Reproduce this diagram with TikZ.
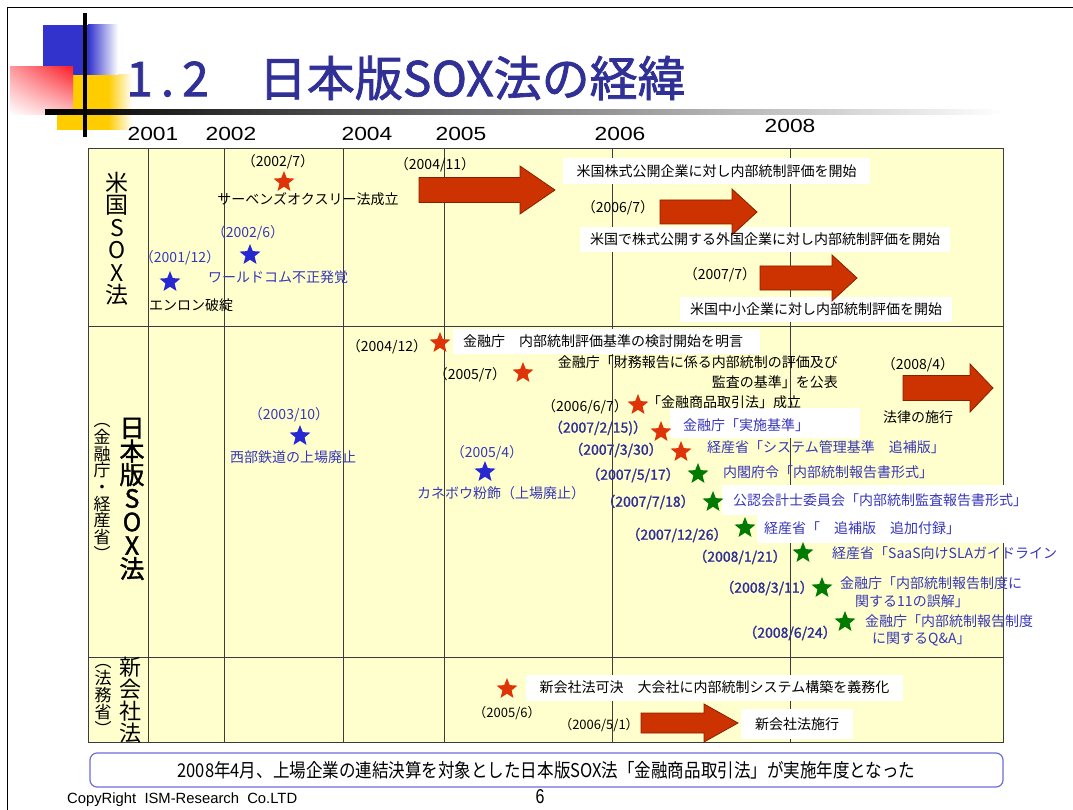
\documentclass[tikz,border=0pt]{standalone}
\usepackage{fontspec}
\setmainfont{Noto Sans CJK JP}[BoldFont={Noto Sans CJK JP},BoldFeatures={FakeBold=1.5}]
\newfontfamily\yearfont{Liberation Sans}[FakeStretch=1.2]
\newfontfamily\condfont{Noto Sans CJK JP}[FakeStretch=0.87]
\newfontfamily\copyfont{Liberation Sans}
\newfontfamily\pagefont{Liberation Sans}[FakeStretch=0.8]
\usetikzlibrary{shapes.geometric,shadings}
\definecolor{tableyellow}{RGB}{255,255,206}
\definecolor{gridc}{RGB}{60,60,60}
\definecolor{starred}{RGB}{222,52,8}
\definecolor{starblue}{RGB}{40,40,210}
\definecolor{stargreen}{RGB}{0,122,0}
\definecolor{arrowred}{RGB}{204,51,0}
\definecolor{arrowdark}{RGB}{140,30,0}
\definecolor{jblue}{RGB}{55,55,185}
\definecolor{dblue}{RGB}{45,45,150}
\definecolor{titleblue}{RGB}{48,48,150}
\definecolor{sqblue}{RGB}{50,50,205}
\definecolor{sqred}{RGB}{250,30,40}
\definecolor{sqgold}{RGB}{255,204,0}
\definecolor{boxblue}{RGB}{110,110,220}
\newcommand\blockarrow[6]{%
  \filldraw[fill=arrowred,draw=arrowdark,line width=0.8pt]
    (#1,#4-#5) -- (#2,#4-#5) -- (#2,#4-#6) -- (#3,#4) -- (#2,#4+#6) -- (#2,#4+#5) -- (#1,#4+#5) -- cycle;}
\tikzset{
  lbl/.style={inner sep=0pt, font=\fontsize{14}{17}\selectfont},
  blbl/.style={lbl, text=jblue},
  bdate/.style={inner sep=0pt, text=dblue, font=\fontsize{14}{17}\selectfont\bfseries},
  wbox/.style={fill=white, draw=none, inner sep=0pt},
  yr/.style={inner sep=0pt, font=\yearfont\fontsize{19}{20}\selectfont},
  starshape/.style={star, star points=5, star point ratio=2.3, minimum size=22pt, inner sep=0pt, draw=none},
  rstar/.style={starshape, fill=starred},
  bstar/.style={starshape, fill=starblue},
  gstar/.style={starshape, fill=stargreen},
  gridline/.style={draw=gridc, line width=1pt},
  vlabel/.style={inner sep=0pt, align=center},
}
\begin{document}
\begin{tikzpicture}[x=1pt,y=-1pt]
\useasboundingbox (0,0) rectangle (1073,810);
\fill[white] (0,0) rectangle (1073,810);
% frame
\draw[line width=1.5pt] (7.5,810) -- (7.5,7.5) -- (1073,7.5);
% title decoration
\fill[sqgold] (57,75) rectangle (108,130);
\shade[left color=sqgold, right color=white] (108,75) rectangle (132,130);
\fill[sqblue] (43,25) rectangle (88,75);
\shade[left color=sqblue, right color=white] (88,25) rectangle (118,75);
\shade[upper left=sqred!45, upper right=sqred, lower left=white, lower right=sqred!25] (10,67) rectangle (73,115);
\shade[left color=black, middle color=black!55, right color=white] (45,109.5) rectangle (1005,114.5);
\draw[line width=3.5pt] (85,13) -- (85,137);
\node[anchor=west, inner sep=0pt, text=titleblue, font=\fontsize{48}{50}\selectfont\bfseries] (title) at (126,78) {1\hspace{8pt}.\hspace{8pt}2\hspace{50pt}日本版SOX法の経緯};
% years
\node[yr] (y2001) at (153,134) {2001};
\node[yr] (y2002) at (231,134) {2002};
\node[yr] (y2004) at (367,134) {2004};
\node[yr] (y2005) at (461,134) {2005};
\node[yr] (y2006) at (620,134) {2006};
\node[yr] (y2008) at (790,126) {2008};
% table
\fill[tableyellow] (88,149) rectangle (1003,742);
\draw[gridline] (88,149) rectangle (1003,742);
\draw[gridline] (88,326) -- (1003,326);
\draw[gridline] (88,657) -- (1003,657);
\foreach \xx in {148,224,343,444,612,790} {\draw[gridline] (\xx,149) -- (\xx,742);}
% white boxes
\node[wbox, minimum width=307pt, minimum height=26pt] (b1) at (716.5,171) {};
\node[wbox, minimum width=370pt, minimum height=25pt] (b2) at (765,239.5) {};
\node[wbox, minimum width=272pt, minimum height=25pt] (b3) at (816,309.5) {};
\node[wbox, minimum width=307pt, minimum height=25pt] (b4) at (606.5,341.5) {};
\node[wbox, minimum width=190pt, minimum height=30pt] (b5) at (765,423) {};
\node[wbox, minimum width=338pt, minimum height=30pt] (b6) at (891,500) {};
\node[wbox, minimum width=303pt, minimum height=28pt] (b7) at (908.5,528.5) {};
\node[wbox, minimum width=377pt, minimum height=26pt] (b8) at (714.5,687.5) {};
\node[wbox, minimum width=112pt, minimum height=30pt] (b9) at (797,724) {};
% arrows
\blockarrow{419}{520}{555}{190}{12.5}{24}
\blockarrow{660}{732}{757}{212}{12}{23}
\blockarrow{760}{832}{857}{278}{12}{23}
\blockarrow{903}{970}{993}{388}{12.5}{24}
\blockarrow{641}{704}{738}{723}{10}{19}
% row labels
\node[vlabel, font=\fontsize{23}{22.5}\selectfont] (lus) at (117,239) {米\\国\\S\\O\\X\\法};
\node[vlabel, font=\fontsize{25}{23.5}\selectfont\bfseries] (ljp) at (132,499) {日\\本\\版\\S\\O\\X\\法};
\node[vlabel, font=\fontsize{17}{16.7}\selectfont] (ljp2) at (102,492) {︵\\金\\融\\庁\\・\\経\\産\\省\\︶};
\node[vlabel, font=\fontsize{22}{22}\selectfont] (lnew) at (130,700) {新\\会\\社\\法};
\node[vlabel, font=\fontsize{17}{17}\selectfont] (lnew2) at (103,700) {︵\\法\\務\\省\\︶};
% US row
\node[lbl] (d1) at (278,162) {（2002/7）};
\node[rstar] (s1) at (284,182) {};
\node[lbl] (t1) at (308,199) {サーベンズオクスリー法成立};
\node[lbl] (d2) at (435,165) {（2004/11）};
\node[lbl] (t1b) at (b1) {米国株式公開企業に対し内部統制評価を開始};
\node[lbl] (d3) at (618,208) {（2006/7）};
\node[lbl] (t2b) at (b2) {米国で株式公開する外国企業に対し内部統制評価を開始};
\node[lbl] (d4) at (720,275) {（2007/7）};
\node[lbl] (t3b) at (b3) {米国中小企業に対し内部統制評価を開始};
\node[blbl] (d5) at (248,233) {（2002/6）};
\node[bstar] (s2) at (250,255) {};
\node[blbl] (t2) at (278,277) {ワールドコム不正発覚};
\node[blbl] (d6) at (180,258) {（2001/12）};
\node[bstar] (s3) at (170,282) {};
\node[lbl] (t3) at (191,305) {エンロン破綻};
% Japan row
\node[lbl] (d7) at (387,347) {（2004/12）};
\node[rstar] (s4) at (440,343) {};
\node[lbl, anchor=west] (t4) at (463,341) {金融庁　内部統制評価基準の検討開始を明言};
\node[lbl] (d8) at (470,375) {（2005/7）};
\node[rstar] (s5) at (523,373) {};
\node[lbl, anchor=east, align=right, font=\fontsize{14}{20}\selectfont] (t5) at (838,372) {金融庁「財務報告に係る内部統制の評価及び\\監査の基準」を公表};
\node[lbl] (d9) at (918,365) {（2008/4）};
\node[lbl] (t6) at (918,417) {法律の施行};
\node[lbl] (d10) at (585,407) {（2006/6/7）};
\node[rstar] (s6) at (638,405) {};
\node[lbl, anchor=west] (t7) at (647,402) {「金融商品取引法」成立};
\node[bdate] (d11) at (598,428) {（2007/2/15)）};
\node[rstar] (s7) at (661,432) {};
\node[blbl, anchor=west] (t8) at (683,425) {金融庁「実施基準」};
\node[bdate] (d12) at (616,450) {（2007/3/30）};
\node[rstar] (s8) at (681,452) {};
\node[blbl, anchor=west] (t9) at (707,447) {経産省「システム管理基準　追補版」};
\node[bdate] (d13) at (633,475) {（2007/5/17）};
\node[gstar] (s9) at (698,474) {};
\node[blbl, anchor=west] (t10) at (723,472) {内閣府令「内部統制報告書形式」};
\node[bdate] (d14) at (648,502) {（2007/7/18）};
\node[gstar] (s10) at (713,502) {};
\node[blbl, anchor=west] (t11) at (733,500) {公認会計士委員会「内部統制監査報告書形式」};
\node[bdate] (d15) at (677,535) {（2007/12/26）};
\node[gstar] (s11) at (745,528) {};
\node[blbl, anchor=west] (t12) at (764,528) {経産省「　追補版　追加付録」};
\node[bdate] (d16) at (740,557) {（2008/1/21）};
\node[gstar] (s12) at (803,553) {};
\node[blbl, anchor=west] (t13) at (832,553) {経産省「SaaS向けSLAガイドライン};
\node[bdate] (d17) at (767,588) {（2008/3/11）};
\node[gstar] (s13) at (822,588) {};
\node[blbl, anchor=west, align=left, font=\fontsize{14}{18}\selectfont] (t14) at (840,592) {金融庁「内部統制報告制度に\\\hspace{15pt}関する11の誤解」};
\node[bdate] (d18) at (790,633) {（2008/6/24）};
\node[gstar] (s14) at (845,622) {};
\node[blbl, anchor=west, align=left, font=\fontsize{14}{17}\selectfont] (t15) at (865,630) {金融庁「内部統制報告制度\\\hspace{7pt}に関するQ\&A」};
\node[blbl] (d19) at (289,415) {（2003/10）};
\node[bstar] (s15) at (300,436) {};
\node[blbl] (t16) at (293,457) {西部鉄道の上場廃止};
\node[blbl] (d20) at (487,453) {（2005/4）};
\node[bstar] (s16) at (485,472) {};
\node[blbl] (t17) at (501,493) {カネボウ粉飾（上場廃止）};
% new company law row
\node[rstar] (s17) at (507,689) {};
\node[lbl] (t18) at (b8) {新会社法可決　大会社に内部統制システム構築を義務化};
\node[lbl, font=\fontsize{13}{15}\selectfont] (d21) at (507,713) {（2005/6）};
\node[lbl, font=\fontsize{13}{15}\selectfont] (d22) at (599,725) {（2006/5/1）};
\node[lbl] (t19) at (b9) {新会社法施行};
% bottom note
\node[draw=boxblue, line width=1.2pt, rounded corners=7pt, fill=white, minimum width=913pt, minimum height=34pt, inner sep=0pt] (note) at (546.5,770) {};
\node[inner sep=0pt, font=\condfont\fontsize{19}{20}\selectfont] (notetext) at (note) {2008年4月、上場企業の連結決算を対象とした日本版SOX法「金融商品取引法」が実施年度となった};
\node[anchor=west, inner sep=0pt, font=\copyfont\fontsize{14.8}{15}\selectfont] (copy) at (67,800) {CopyRight\ \ ISM-Research\ \ Co.LTD};
\node[inner sep=0pt, font=\pagefont\fontsize{20}{20}\selectfont] (page) at (540,797) {6};
\end{tikzpicture}
\end{document}
